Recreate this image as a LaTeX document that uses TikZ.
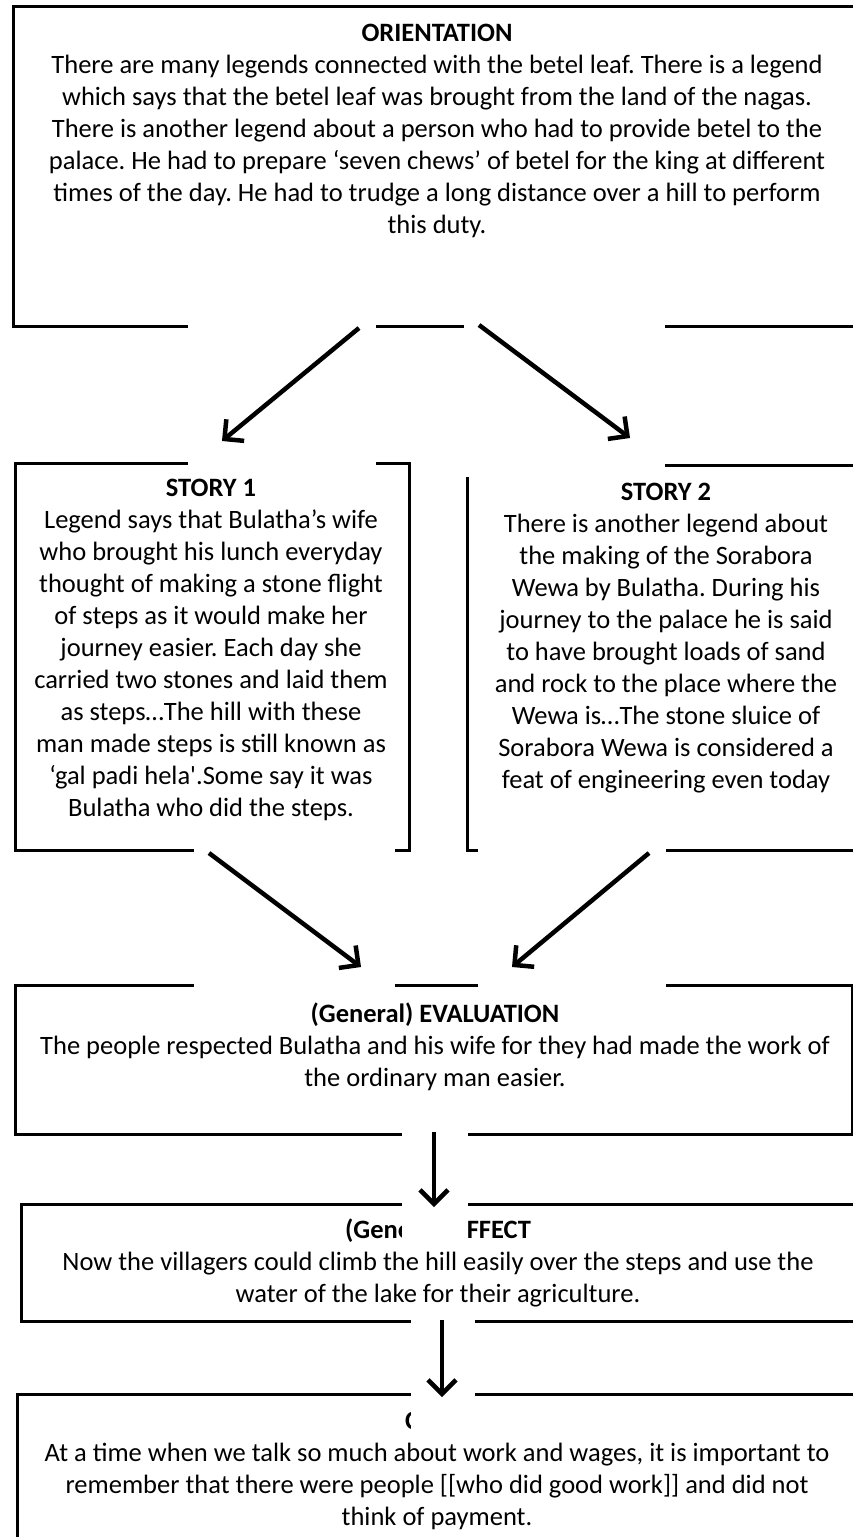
\documentclass[tikz,border=0pt]{standalone}
\usepackage{fontspec}
\setmainfont{Carlito}
\usetikzlibrary{arrows.meta}
\frenchspacing
\tikzset{
  boxst/.style={draw=black, line width=3pt, inner sep=0pt, anchor=north west},
  txt/.style={align=center, inner sep=0pt, anchor=north, font=\fontsize{26.5}{32}\selectfont},
  patch/.style={fill=white, draw=none},
  arr/.style={line width=4.5pt, -{Straight Barb[length=14pt, width=28pt]}}
}
\begin{document}
\begin{tikzpicture}[x=1pt, y=-1pt]
\useasboundingbox (0,0) rectangle (853,1537);
\clip (0,0) rectangle (853,1537);
\fill[white] (0,0) rectangle (853,1537);
% boxes
\node[boxst, minimum width=846pt, minimum height=320pt] (orient) at (12,5) {};
\node[boxst, minimum width=394pt, minimum height=387pt] (story1) at (14,462) {};
\node[boxst, minimum width=394pt, minimum height=385pt] (story2) at (466,464) {};
\node[boxst, minimum width=837pt, minimum height=149pt] (eval) at (14,984) {};
\node[boxst, minimum width=838pt, minimum height=117pt] (effect) at (20,1203) {};
\node[boxst, minimum width=842pt, minimum height=152pt] (coda) at (16,1393) {};
% texts
\node[txt] (orientT) at (437,24) {\textbf{ORIENTATION}\\
There are many legends connected with the betel leaf. There is a legend\\
which says that the betel leaf was brought from the land of the nagas.\\
There is another legend about a person who had to provide betel to the\\
palace. He had to prepare ‘seven chews’ of betel for the king at different\\
times of the day. He had to trudge a long distance over a hill to perform\\
this duty.};
\node[txt] (story1T) at (211,479) {\textbf{STORY 1}\\
Legend says that Bulatha’s wife\\
who brought his lunch everyday\\
thought of making a stone flight\\
of steps as it would make her\\
journey easier. Each day she\\
carried two stones and laid them\\
as steps…The hill with these\\
man made steps is still known as\\
‘gal padi hela\textquotesingle.Some say it was\\
Bulatha who did the steps.};
\node[txt] (story2T) at (666,483) {\textbf{STORY 2}\\
There is another legend about\\
the making of the Sorabora\\
Wewa by Bulatha. During his\\
journey to the palace he is said\\
to have brought loads of sand\\
and rock to the place where the\\
Wewa is…The stone sluice of\\
Sorabora Wewa is considered a\\
feat of engineering even today};
\node[txt] (evalT) at (435,1003) {\textbf{(General) EVALUATION}\\
The people respected Bulatha and his wife for they had made the work of\\
the ordinary man easier.};
\node[txt] (effectT) at (438,1219) {\textbf{(General) EFFECT}\\
Now the villagers could climb the hill easily over the steps and use the\\
water of the lake for their agriculture.};
\node[txt] (codaT) at (437,1412) {\textbf{CODA}\\
At a time when we talk so much about work and wages, it is important to\\
remember that there were people [[who did good work]] and did not\\
think of payment.};
% white patches
\fill[patch] (188,316) rectangle (376,470);
\fill[patch] (464,316) rectangle (665,477);
\fill[patch] (194,842) rectangle (395,992);
\fill[patch] (478,842) rectangle (666,992);
\fill[patch] (402,1126) rectangle (468,1245);
\fill[patch] (411,1313) rectangle (475,1433);
% arrow end points
\coordinate (a1s) at (359,328); \coordinate (a1e) at (222,441);
\coordinate (a2s) at (479,325); \coordinate (a2e) at (630,438);
\coordinate (a3s) at (209,853); \coordinate (a3e) at (361,967);
\coordinate (a4s) at (649,853); \coordinate (a4e) at (512,967);
\coordinate (a5s) at (434,1132); \coordinate (a5e) at (434,1207);
\coordinate (a6s) at (442,1320); \coordinate (a6e) at (442,1397);
\draw[arr] (a1s) -- (a1e);
\draw[arr] (a2s) -- (a2e);
\draw[arr] (a3s) -- (a3e);
\draw[arr] (a4s) -- (a4e);
\draw[arr] (a5s) -- (a5e);
\draw[arr] (a6s) -- (a6e);
\end{tikzpicture}
\end{document}
